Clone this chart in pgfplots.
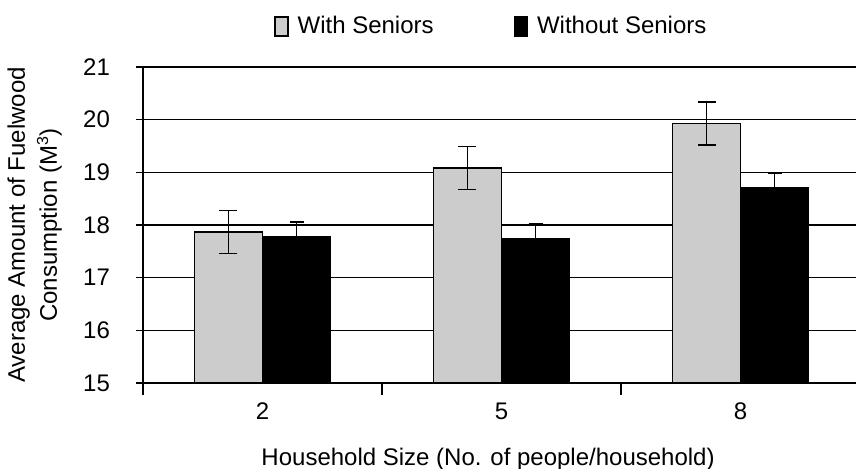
\documentclass[border=0pt]{standalone}
\usepackage{fontspec}
\setmainfont{Liberation Sans}
\usepackage{pgfplots}
\pgfplotsset{compat=1.18}
\definecolor{lightbar}{HTML}{CCCCCC}
\begin{document}
\begin{tikzpicture}[font=\fontsize{12}{13.5}\selectfont]
\begin{axis}[
  scale only axis,
  width=356.5pt, height=158pt,
  xmin=-0.5, xmax=2.483,
  ymin=15, ymax=21,
  ytick={15,16,17,18,19,20,21},
  xtick={0,1,2}, xticklabels={2,5,8},
  minor xtick={-0.5,0.5,1.5},
  axis x line=bottom, axis y line=left,
  axis line style={-, line width=0.75pt},
  ymajorgrids, grid style={black, line width=0.75pt},
  tick align=outside,
  major tick length=3.5pt, minor tick length=6pt,
  major x tick style={draw=none},
  every tick/.style={black, line width=0.75pt},
  /pgf/number format/assume math mode=true,
  yticklabel style={xshift=-9.5pt},
  xticklabel style={yshift=-3pt},
  ybar=0pt, bar width=0.285,
  every axis y label/.style={at={(axis description cs:-0.152,0.5)}, rotate=90, anchor=center, align=center},
  ylabel={Average Amount of Fuelwood\\[2.5pt]Consumption (M\textsuperscript{3})},
  every axis x label/.style={at={(axis description cs:0.484,-0.24)}, anchor=center},
  xlabel={Household Size (No. of people/household)},
  legend columns=2,
  legend style={draw=none, fill=none, at={(0.490,1.187)}, anchor=north,
    /tikz/every even column/.append style={column sep=38pt}},
  legend image code/.code={\draw[#1, line width=0.6pt] (0pt,-4.75pt) rectangle (6.5pt,4.75pt); \path (9pt,0pt);},
]
\addplot[fill=lightbar, draw=black, line width=0.75pt,
  error bars/.cd, y dir=both, y explicit,
  error bar style={black, line width=0.75pt},
  error mark options={rotate=90, mark size=4.5pt, line width=0.75pt, black}]
  coordinates {(0,17.87) +- (0,0.41) (1,19.08) +- (0,0.41) (2,19.93) +- (0,0.41)};
\addlegendentry{With Seniors}
\addplot[fill=black, draw=black, line width=0.75pt,
  error bars/.cd, y dir=both, y explicit,
  error bar style={black, line width=0.75pt},
  error mark options={rotate=90, mark size=3.5pt, line width=0.75pt, black}]
  coordinates {(0,17.78) +- (0,0.28) (1,17.73) +- (0,0.29) (2,18.70) +- (0,0.28)};
\addlegendentry{Without Seniors}
\coordinate (ll) at (rel axis cs:0,0);
\end{axis}
\pgfresetboundingbox
\path[use as bounding box] ([xshift=-71.5pt,yshift=-43pt]ll) rectangle ++(428pt,234.5pt);
\end{tikzpicture}
\end{document}
